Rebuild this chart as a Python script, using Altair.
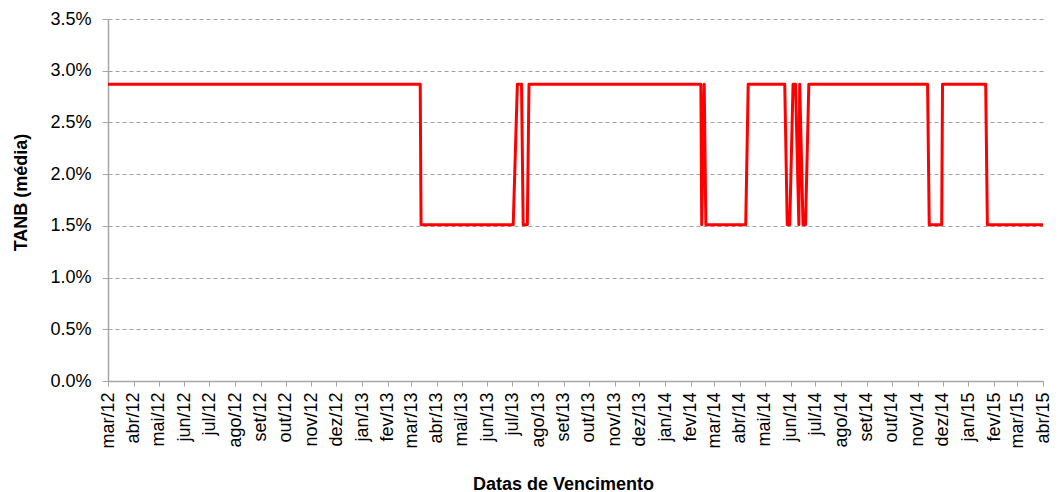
import altair as alt
import pandas as pd

# Data
dates = [
    "2012-03-01", "2013-03-12", "2013-03-13", "2013-07-02", "2013-07-07",
    "2013-07-12", "2013-07-14", "2013-07-19", "2013-07-21", "2014-02-13",
    "2014-02-14", "2014-02-17", "2014-02-19", "2014-04-08", "2014-04-11",
    "2014-05-25", "2014-05-28", "2014-05-31", "2014-06-04", "2014-06-07",
    "2014-06-11", "2014-06-12", "2014-06-16", "2014-06-19", "2014-06-23",
    "2014-11-13", "2014-11-15", "2014-11-30", "2014-12-01", "2015-01-22",
    "2015-01-24", "2015-04-01",
]
tanb = [
    0.0287, 0.0287, 0.0151, 0.0151, 0.0287,
    0.0287, 0.0151, 0.0151, 0.0287, 0.0287,
    0.0151, 0.0287, 0.0151, 0.0151, 0.0287,
    0.0287, 0.0151, 0.0151, 0.0287, 0.0287,
    0.0151, 0.0287, 0.0151, 0.0151, 0.0287,
    0.0287, 0.0151, 0.0151, 0.0287, 0.0287,
    0.0151, 0.0151,
]
month_names = ["jan", "fev", "mar", "abr", "mai", "jun",
               "jul", "ago", "set", "out", "nov", "dez"]
y_ticks = [0.0, 0.005, 0.01, 0.015, 0.02, 0.025, 0.03, 0.035]

# monthly tick positions mar/12 .. abr/15
tick_months = []
y, m = 2012, 3
while (y, m) <= (2015, 4):
    tick_months.append(alt.DateTime(year=y, month=m, date=1, utc=True))
    m += 1
    if m > 12:
        m, y = 1, y + 1

df = pd.DataFrame({"data": dates, "tanb": tanb})

names_expr = "[" + ",".join("'%s'" % n for n in month_names) + "]"
label_expr = names_expr + "[utcmonth(datum.value)] + '/' + utcFormat(datum.value, '%y')"

FONT = "Liberation Sans"
GRAY = "#A6A6A6"

chart = alt.Chart(df).mark_line(
    color="#FF0000", strokeWidth=3, strokeJoin="round"
).encode(
    x=alt.X(
        "data:T",
        scale=alt.Scale(
            type="utc",
            domain=[alt.DateTime(year=2012, month=3, date=1, utc=True),
                    alt.DateTime(year=2015, month=4, date=1, utc=True)],
        ),
        axis=alt.Axis(
            values=tick_months,
            labelExpr=label_expr,
            labelAngle=270,
            labelFont=FONT, labelFontSize=18, labelColor="#000000",
            labelPadding=6, tickSize=5, tickColor=GRAY,
            domainColor=GRAY, domainWidth=1.5,
            grid=False, labelOverlap=False, labelFlush=False,
            title="Datas de Vencimento",
            titleFont=FONT, titleFontSize=18, titleFontWeight="bold",
            titleColor="#000000",
            titleX=455, titleY=103, titleBaseline="middle",
            titleAlign="center", titleAnchor="start",
        ),
    ),
    y=alt.Y(
        "tanb:Q",
        scale=alt.Scale(domain=[0, 0.035]),
        axis=alt.Axis(
            values=y_ticks, format=".1%",
            labelFont=FONT, labelFontSize=18, labelColor="#000000",
            labelPadding=11, tickSize=6, tickColor=GRAY,
            domainColor=GRAY, domainWidth=1.5,
            grid=True, gridColor="#A0A0A0", gridDash=[4, 3], gridWidth=1,
            title="TANB (média)",
            titleFont=FONT, titleFontSize=18, titleFontWeight="bold",
            titleColor="#000000",
            titleAngle=270, titleX=-87, titleY=173,
            titleBaseline="middle", titleAlign="center", titleAnchor="start",
        ),
    ),
).properties(
    width=935,
    height=362,
    padding={"left": 100, "top": 11, "right": 10, "bottom": 111},
    autosize=alt.AutoSizeParams(type="none"),
).configure_view(
    stroke=None
)

chart.save("out.html", embed_options={"renderer": "svg", "actions": False})
